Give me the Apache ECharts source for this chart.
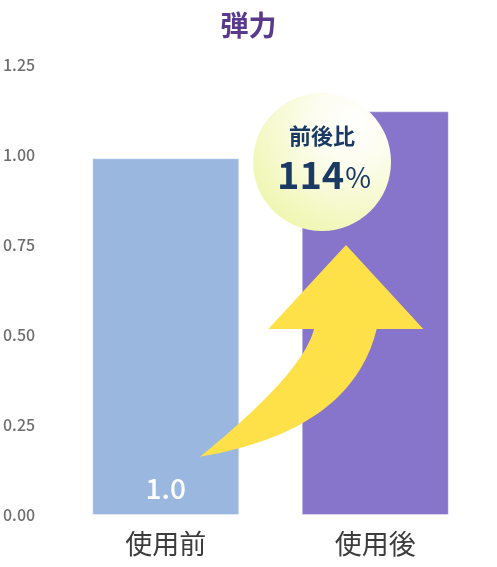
<!DOCTYPE html>
<html>
<head>
<meta charset="utf-8">
<script src="https://cdn.jsdelivr.net/npm/echarts@6/dist/echarts.min.js"></script>
<style>html,body{margin:0;padding:0;background:#fff;}#c{width:497px;height:567px;}</style>
</head>
<body>
<div id="c"></div>
<script>
const titleText = '弾力';
const categories = ['使用前', '使用後'];
const values = [0.99, 1.12];
const barColors = ['#9ab8df', '#8675cb'];
const valueLabels = ['1.0', ''];
const yTicks = { min: 0, max: 1.25, interval: 0.25 };
const ratioTitle = '前後比';
const ratioValue = '114';

const FONT = '"Noto Sans CJK JP", "Noto Sans", sans-serif';
const chart = echarts.init(document.getElementById('c'), null, { renderer: 'canvas' });

chart.setOption({
  animation: false,
  title: {
    text: titleText, left: 'center', top: 6,
    textStyle: { fontFamily: FONT, fontSize: 28, fontWeight: 'bold', color: '#5b3a8e' }
  },
  grid: { left: 58.5, right: 17, top: 64.5, bottom: 52 },
  xAxis: {
    type: 'category', data: categories,
    axisLine: { show: false }, axisTick: { show: false },
    axisLabel: { fontFamily: FONT, fontSize: 27, color: '#3c3c3c', margin: 15 }
  },
  yAxis: {
    type: 'value', min: yTicks.min, max: yTicks.max, interval: yTicks.interval,
    splitLine: { show: false }, axisLine: { show: false }, axisTick: { show: false },
    axisLabel: {
      fontFamily: FONT, fontSize: 16, fontWeight: 500, color: '#6e6e6e',
      align: 'left', margin: 58,
      formatter: v => v.toFixed(2)
    }
  },
  series: [{
    type: 'bar',
    barWidth: 147,
    data: values.map((v, i) => ({
      value: v,
      itemStyle: { color: barColors[i], borderColor: 'rgba(255,255,255,0.35)', borderWidth: 1 },
      label: {
        show: !!valueLabels[i], position: 'insideBottom', distance: 13,
        formatter: () => valueLabels[i],
        fontFamily: FONT, fontSize: 28, fontWeight: 500, color: '#fff'
      }
    }))
  }]
});

// decoration: curved arrow outline built from two quadratic curves
function quad(p0, c, p2, n) {
  const pts = [];
  for (let k = 0; k <= n; k++) {
    const t = k / n, u = 1 - t;
    pts.push([u * u * p0[0] + 2 * u * t * c[0] + t * t * p2[0],
              u * u * p0[1] + 2 * u * t * c[1] + t * t * p2[1]]);
  }
  return pts;
}
const tail = [200, 456.7];
const arrowPts = []
  .concat(quad(tail, [303, 373], [314, 329], 40))
  .concat([[268.3, 329], [346, 245], [423.3, 329]])
  .concat(quad([376.7, 329], [351.6, 431], tail, 40));

chart.setOption({
  graphic: [
    {
      type: 'polygon', z: 10,
      shape: { points: arrowPts },
      style: { fill: '#fee048' }
    },
    {
      type: 'circle', z: 11,
      shape: { cx: 322, cy: 162, r: 69 },
      style: {
        fill: {
          type: 'radial', x: 0.72, y: 0.22, r: 0.95, global: false,
          colorStops: [
            { offset: 0, color: '#ffffff' },
            { offset: 0.3, color: '#fdfdf0' },
            { offset: 1, color: '#edf5a6' }
          ]
        }
      }
    },
    {
      type: 'text', z: 12, x: 322, y: 136,
      style: {
        text: ratioTitle, fontFamily: FONT, fontSize: 22, fontWeight: 'bold',
        fill: '#1b3a63', align: 'center', verticalAlign: 'middle'
      }
    },
    {
      type: 'text', z: 12, x: 324, y: 175,
      style: {
        text: '{a|' + ratioValue + '}{b|%}',
        align: 'center', verticalAlign: 'middle',
        rich: {
          a: { fontFamily: FONT, fontSize: 38, fontWeight: 'bold', fill: '#1b3a63', color: '#1b3a63' },
          b: { fontFamily: FONT, fontSize: 28, color: '#1b3a63', fill: '#1b3a63', padding: [4, 0, 0, 1] }
        }
      }
    }
  ]
});
</script>
</body>
</html>
